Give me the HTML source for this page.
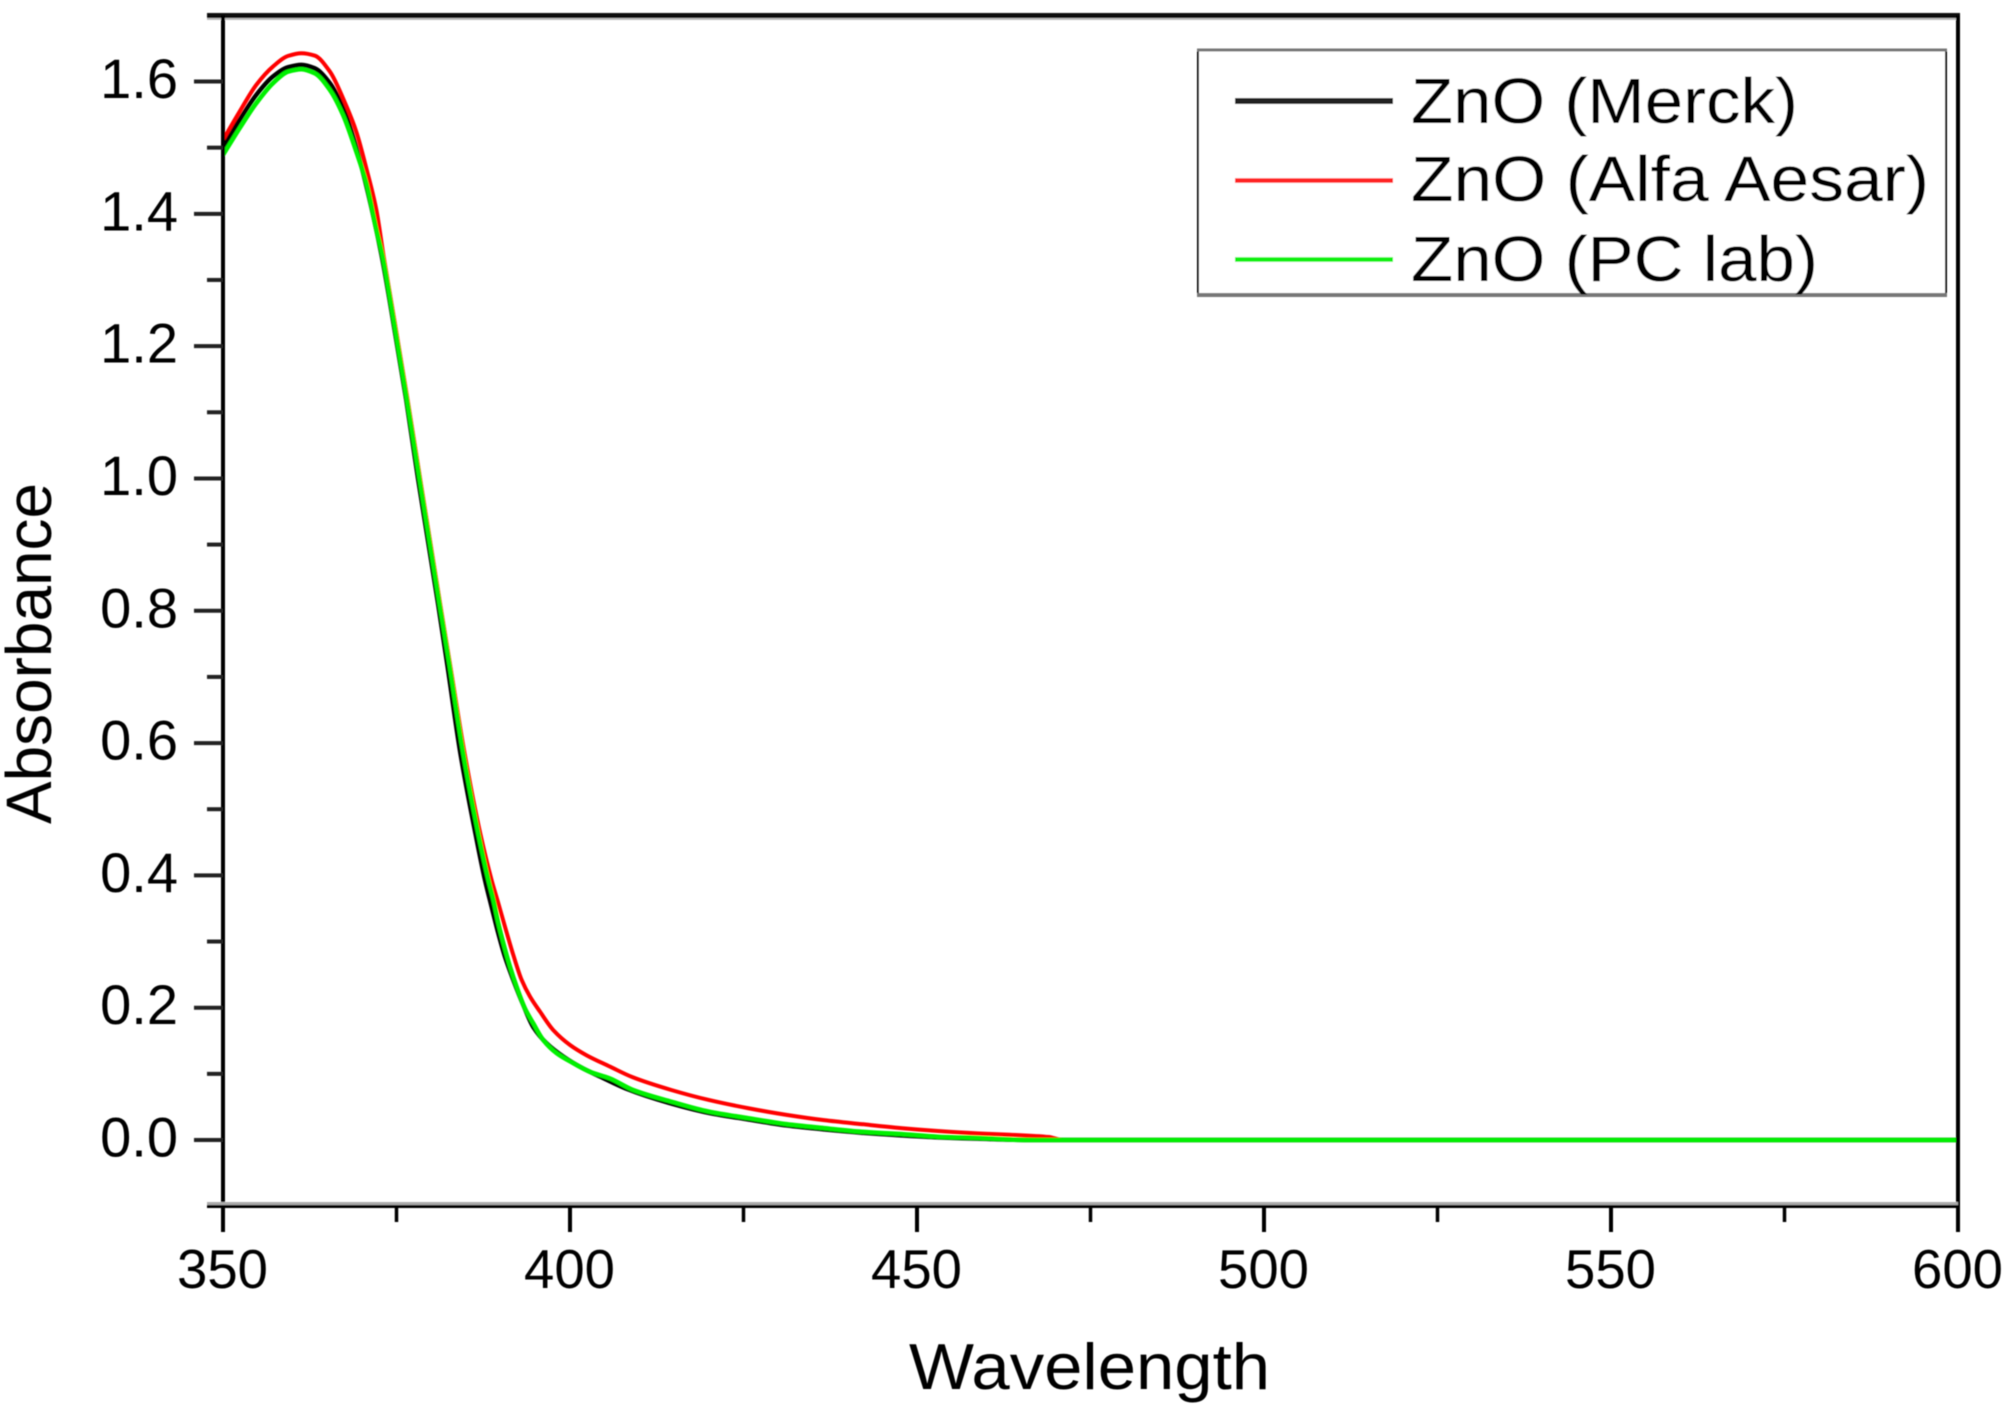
<!DOCTYPE html>
<html lang="en">
<head>
<meta charset="utf-8">
<title>ZnO absorbance spectra</title>
<style>
html,body{margin:0;padding:0;background:#fff;}
svg{display:block;width:2004px;height:1410px;font-family:"Liberation Sans",Arial,sans-serif;fill:#000;}
</style>
</head>
<body>
<svg id="chart" xmlns="http://www.w3.org/2000/svg" width="2004" height="1410" viewBox="0 0 2004 1410">
  <defs><filter id="soft" x="-2%" y="-2%" width="104%" height="104%"><feGaussianBlur stdDeviation="0.6"/></filter></defs>
  <rect width="2004" height="1410" fill="#fff"/>
  <g id="root" filter="url(#soft)">
    <g id="series"></g>
    <g id="axes"></g>
    <text x="909" y="1389" font-size="65" textLength="361" lengthAdjust="spacingAndGlyphs">Wavelength</text>
    <text transform="translate(51,824) rotate(-90)" font-size="64" textLength="341" lengthAdjust="spacingAndGlyphs">Absorbance</text>
    <g>
      <rect x="1198" y="50" width="748" height="245" fill="#fff"/>
      <line x1="1198" y1="50" x2="1198" y2="295" stroke="#111" stroke-width="2"/>
      <line x1="1946" y1="50" x2="1946" y2="295" stroke="#111" stroke-width="2"/>
      <line x1="1197" y1="50" x2="1947" y2="50" stroke="#777" stroke-width="3"/>
      <line x1="1197" y1="295" x2="1947" y2="295" stroke="#777" stroke-width="4"/>
      <line x1="1235" y1="101" x2="1393" y2="101" stroke="#222" stroke-width="6"/>
      <line x1="1235" y1="180.5" x2="1393" y2="180.5" stroke="#ff2020" stroke-width="4.5"/>
      <line x1="1235" y1="259.5" x2="1393" y2="259.5" stroke="#10f010" stroke-width="4.5"/>
      <text x="1411" y="123" font-size="64" textLength="387" lengthAdjust="spacingAndGlyphs">ZnO (Merck)</text>
      <text x="1411" y="201" font-size="64" textLength="518" lengthAdjust="spacingAndGlyphs">ZnO (Alfa Aesar)</text>
      <text x="1411" y="281" font-size="64" textLength="407" lengthAdjust="spacingAndGlyphs">ZnO (PC lab)</text>
    </g>
  </g>
</svg>
<script>
const xMajorTicks = [350, 400, 450, 500, 550, 600];
const xMinorTicks = [375, 425, 475, 525, 575];
const yMajorTicks = [0.0, 0.2, 0.4, 0.6, 0.8, 1.0, 1.2, 1.4, 1.6];
const yMinorTicks = [-0.1, 0.1, 0.3, 0.5, 0.7, 0.9, 1.1, 1.3, 1.5, 1.7];

const merckWavelength = [350, 352.4, 354.8, 357.2, 359.4, 361.3, 363.2, 365.4, 367.3, 369.2, 372.8, 374, 376.4, 378.1, 381, 382.3, 384.2, 386.4, 387.75, 388.7, 389.67, 390.63, 391.83, 393.27, 394.7, 396.64, 399.04, 401.9, 404.3, 408, 414.3, 420, 425.7, 431.2, 436.6, 442, 447.7, 453, 458.7, 465.9, 470, 600];
const merckAbsorbance = [1.5006, 1.542, 1.5798, 1.6075, 1.6216, 1.6251, 1.62, 1.5974, 1.5596, 1.50, 1.34, 1.27, 1.119, 1.0, 0.81, 0.72, 0.585, 0.462, 0.393, 0.3527, 0.3124, 0.277, 0.242, 0.204, 0.171, 0.146, 0.126, 0.108, 0.096, 0.078, 0.056, 0.041, 0.031, 0.022, 0.016, 0.011, 0.007, 0.004, 0.002, 0, 0, 0];

const alfaWavelength = [350, 352.4, 354.8, 357.2, 359.4, 361.3, 363.2, 365.4, 367.5, 369.2, 370.65, 372.1, 373.15, 374.2, 376.6, 378.4, 381.3, 382.7, 384.8, 387.1, 388.7, 389.67, 390.63, 391.83, 393.03, 394.24, 395.68, 397.6, 400, 402.4, 405.75, 409, 414.6, 420, 425.7, 431.2, 436.6, 442, 447.7, 453, 458.7, 463.4, 469, 471, 600];
const alfaAbsorbance = [1.5117, 1.5546, 1.5949, 1.6226, 1.6387, 1.6427, 1.6392, 1.615, 1.5697, 1.5243, 1.4689, 1.4059, 1.3354, 1.27, 1.119, 1.0, 0.81, 0.72, 0.585, 0.462, 0.393, 0.358, 0.3225, 0.2797, 0.242, 0.2167, 0.194, 0.166, 0.1436, 0.128, 0.111, 0.095, 0.0756, 0.0605, 0.048, 0.038, 0.030, 0.024, 0.018, 0.0136, 0.010, 0.008, 0.0045, 0, 0];

const pcLabWavelength = [350, 352.4, 354.8, 357.2, 359.4, 361.3, 363.2, 365.4, 367.3, 369.2, 370.65, 372.1, 373, 374.1, 376.5, 378.3, 381.2, 382.6, 384.6, 386.8, 388.23, 388.95, 389.67, 390.4, 391.35, 392.3, 393.5, 394.7, 396.15, 398.1, 400.5, 402.9, 405.75, 409, 414.6, 420, 425.7, 431.2, 436.6, 442, 447.7, 453, 458.7, 465.9, 470, 600];
const pcLabAbsorbance = [1.489, 1.5294, 1.5672, 1.5974, 1.615, 1.6186, 1.6125, 1.5873, 1.5495, 1.4941, 1.4462, 1.3757, 1.3354, 1.27, 1.119, 1.0, 0.81, 0.72, 0.585, 0.462, 0.393, 0.363, 0.3276, 0.2973, 0.262, 0.2318, 0.199, 0.1764, 0.151, 0.131, 0.116, 0.103, 0.093, 0.076, 0.058, 0.043, 0.033, 0.024, 0.018, 0.0125, 0.009, 0.005, 0.003, 0, 0, 0];

const xDomain = [350, 600];
const yDomain = [0, 1.6];
const plot = { left: 223, right: 1958, zeroY: 1140, peakY: 81.5, bottomY: 1206, topY: 15.5 };

function xScale(v) { return plot.left + (v - xDomain[0]) / (xDomain[1] - xDomain[0]) * (plot.right - plot.left); }
function yScale(v) { return plot.zeroY + (v - yDomain[0]) / (yDomain[1] - yDomain[0]) * (plot.peakY - plot.zeroY); }

const NS = 'http://www.w3.org/2000/svg';
const axesGroup = document.getElementById('axes');
const seriesGroup = document.getElementById('series');

function drawLine(parent, x1, y1, x2, y2, stroke, width) {
  const l = document.createElementNS(NS, 'line');
  l.setAttribute('x1', x1);
  l.setAttribute('y1', y1);
  l.setAttribute('x2', x2);
  l.setAttribute('y2', y2);
  l.setAttribute('stroke', stroke);
  l.setAttribute('stroke-width', width);
  parent.appendChild(l);
  return l;
}
function drawText(parent, x, y, size, anchor, content) {
  const t = document.createElementNS(NS, 'text');
  t.setAttribute('x', x);
  t.setAttribute('y', y);
  t.setAttribute('font-size', size);
  t.setAttribute('text-anchor', anchor);
  t.textContent = content;
  parent.appendChild(t);
  return t;
}

/* monotone cubic path through the read points */
function monotonePath(xs, ys) {
  const n = xs.length, d = [], m = [];
  for (let i = 0; i < n - 1; i++) d.push((ys[i + 1] - ys[i]) / (xs[i + 1] - xs[i]));
  m.push(d[0]);
  for (let i = 1; i < n - 1; i++) {
    if (d[i - 1] * d[i] <= 0) { m.push(0); continue; }
    const h0 = xs[i] - xs[i - 1], h1 = xs[i + 1] - xs[i];
    const w0 = 2 * h1 + h0, w1 = h1 + 2 * h0;
    m.push((w0 + w1) / (w0 / d[i - 1] + w1 / d[i]));
  }
  m.push(d[n - 2]);
  let p = 'M' + xs[0].toFixed(2) + ' ' + ys[0].toFixed(2);
  for (let i = 0; i < n - 1; i++) {
    const h = (xs[i + 1] - xs[i]) / 3;
    p += 'C' + (xs[i] + h).toFixed(2) + ' ' + (ys[i] + m[i] * h).toFixed(2) + ' ' +
         (xs[i + 1] - h).toFixed(2) + ' ' + (ys[i + 1] - m[i + 1] * h).toFixed(2) + ' ' +
         xs[i + 1].toFixed(2) + ' ' + ys[i + 1].toFixed(2);
  }
  return p;
}
function drawSeries(wavelengths, values, color, width) {
  const path = document.createElementNS(NS, 'path');
  path.setAttribute('d', monotonePath(wavelengths.map(xScale), values.map(yScale)));
  path.setAttribute('fill', 'none');
  path.setAttribute('stroke', color);
  path.setAttribute('stroke-width', width);
  seriesGroup.appendChild(path);
  return path;
}

const merckLine = drawSeries(merckWavelength, merckAbsorbance, '#000000', 4.5);


const alfaLine = drawSeries(alfaWavelength, alfaAbsorbance, '#ff0000', 4);


const pcLabLine = drawSeries(pcLabWavelength, pcLabAbsorbance, '#00f000', 4.5);



/* frame */
const topBand = drawLine(axesGroup, 207, plot.topY + 3.5, plot.right, plot.topY + 3.5, '#bbb', 2);


const topAxis = drawLine(axesGroup, 207, plot.topY, plot.right + 2, plot.topY, '#111', 5);


const leftAxis = drawLine(axesGroup, plot.left, plot.topY, plot.left, plot.bottomY + 26, '#000', 4);


const rightAxis = drawLine(axesGroup, plot.right, plot.topY, plot.right, plot.bottomY + 26, '#000', 4);


const bottomBand = drawLine(axesGroup, 207, plot.bottomY - 2.5, plot.right, plot.bottomY - 2.5, '#aaa', 3);


const bottomAxis = drawLine(axesGroup, 207, plot.bottomY + 0.5, plot.right, plot.bottomY + 0.5, '#000', 3);



/* x ticks */
xMajorTicks.forEach(function (v) {
  const tick = drawLine(axesGroup, xScale(v), plot.bottomY, xScale(v), plot.bottomY + 26, '#000', 4);
  
  
  const label = drawText(axesGroup, xScale(v) - 0.5, 1288, 54.5, 'middle', String(v));
  
  
});
xMinorTicks.forEach(function (v) {
  const tick = drawLine(axesGroup, xScale(v), plot.bottomY, xScale(v), plot.bottomY + 16, '#000', 3.5);
  
  
});

/* y ticks */
yMajorTicks.forEach(function (v) {
  const tick = drawLine(axesGroup, 194, yScale(v), plot.left, yScale(v), '#222', 4);
  
  
  const label = drawText(axesGroup, 178, yScale(v) + 16.5, 56, 'end', v.toFixed(1));
  
  
});
yMinorTicks.slice(1, -1).forEach(function (v) {
  const tick = drawLine(axesGroup, 207, yScale(v), plot.left, yScale(v), '#222', 4);
  
  
});
</script>
</body>
</html>
